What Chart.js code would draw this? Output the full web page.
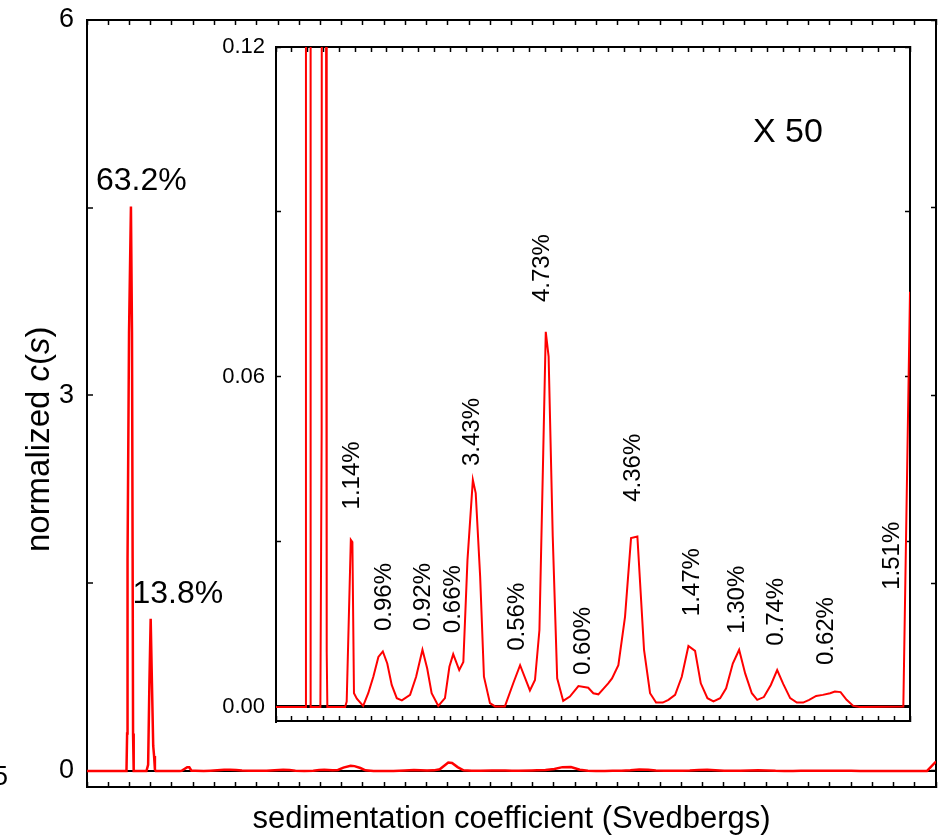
<!DOCTYPE html>
<html>

<head>
  <title>normalized c(s)</title>
  <meta charset="utf-8">
  <script src="https://cdn.jsdelivr.net/npm/chart.js"></script>
  <style>
    body { margin: 0; background: #fff; }
    #wrap { position: relative; width: 939px; height: 839px; }
    #mainChart { position: absolute; left: 0; top: 0; }
    #insetChart { position: absolute; left: 200px; top: 30px; }
  </style>
</head>

<body>
  <div id="wrap">
    <canvas id="mainChart" width="939" height="839"></canvas>
    <canvas id="insetChart" width="722" height="700"></canvas>
  </div>

  <script>
    // sedimentation coefficient (S) and normalized c(s)
    const sValues = [0, 0.93, 0.945, 0.955, 0.99, 1.035, 1.06, 1.075, 1.085, 1.10,
      1.40, 1.44, 1.47, 1.50, 1.53, 1.56, 1.58, 1.60, 1.62,
      2.18, 2.23, 2.36, 2.41, 2.46, 2.55, 2.75, 2.91, 3.07, 3.23, 3.37, 3.51, 3.65, 3.81, 3.97,
      4.23, 4.42, 4.62, 4.77, 4.91, 5.12, 5.33, 5.47, 5.59, 5.78, 5.91, 6.04, 6.21, 6.30, 6.44, 6.56,
      6.75, 6.91, 7.22, 7.49, 7.70, 8.01, 8.17, 8.31, 8.43, 8.51, 8.60, 8.73, 8.87, 9.06, 9.27,
      9.54, 9.85, 10.01, 10.17, 10.48, 10.60, 10.80, 11.01, 11.20, 11.40, 11.61, 11.80, 11.99,
      12.20, 12.38, 12.59, 12.80, 13.01, 13.22, 13.40, 13.61, 13.80, 14.01, 14.20, 14.41, 14.61,
      14.80, 15.01, 15.18, 15.39, 15.61, 15.81, 16.00, 16.22, 16.43, 16.63, 16.82, 17.04, 17.25,
      17.48, 17.63, 17.81, 18.00, 18.21, 18.42, 19.79, 20.00];
    const cValues = [0, 0, 0.3, 1.7, 3.5, 4.51, 3.5, 1.7, 0.3, 0,
      0, 0.05, 0.7, 1.216, 0.7, 0.2, 0.12, 0.01, 0,
      0, 0.001, 0.0304, 0.0300, 0.0025, 0.0015, 0.0002, 0.0025, 0.0055, 0.0091, 0.0101, 0.0079, 0.004, 0.0016, 0.0012,
      0.0022, 0.0055, 0.0104, 0.007, 0.0025, 0.0002, 0.0016, 0.0073, 0.0096, 0.0067, 0.0082, 0.0267, 0.0413, 0.0389, 0.0237, 0.0055,
      0.0007, 0.0001, 0.0001, 0.0044, 0.0076, 0.003, 0.0049, 0.014, 0.0462, 0.0682, 0.0637, 0.031, 0.0052, 0.0011, 0.0019,
      0.0038, 0.0035, 0.0025, 0.0023, 0.0043, 0.0052, 0.0076, 0.0164, 0.0307, 0.031, 0.0104, 0.0025, 0.0008,
      0.0008, 0.0013, 0.0022, 0.0055, 0.0111, 0.0102, 0.0043, 0.0016, 0.001, 0.0016, 0.0034, 0.0079, 0.0104,
      0.0061, 0.0025, 0.0013, 0.0018, 0.004, 0.0067, 0.0042, 0.0016, 0.0008, 0.0008, 0.0013, 0.002, 0.0022,
      0.0025, 0.0028, 0.0027, 0.0013, 0.0002, 0, 0.0001, 0.0755];

    // tick values
    const mainYTicks = [0, 1.5, 3, 4.5, 6];
    const mainYLabels = [0, 3, 6];
    const insetYTicks = [0, 0.03, 0.06, 0.09, 0.12];
    const insetYLabels = [0, 0.06, 0.12];

    // peak annotations: text, s, c
    const mainPeakText = ['63.2%', '13.8%'];
    const mainPeakS = [1.28, 2.14];
    const mainPeakC = [4.71, 1.41];

    const insetPeakText = ['1.14%', '0.96%', '0.92%', '0.66%', '3.43%', '0.56%', '4.73%', '0.60%',
      '4.36%', '1.47%', '1.30%', '0.74%', '0.62%', '1.51%'];
    const insetPeakS = [2.41, 3.41, 4.65, 5.58, 6.20, 7.60, 8.39, 9.69, 11.26, 13.12, 14.56, 15.80, 17.35, 19.43];
    const insetPeakC = [0.0421, 0.0200, 0.0200, 0.0196, 0.0500, 0.0164, 0.0798, 0.0120, 0.0435, 0.0227,
      0.0195, 0.0173, 0.0138, 0.0275];

    const FONT = "'Liberation Sans', Arial, sans-serif";
    Chart.defaults.font.family = FONT;
    Chart.defaults.color = '#000';

    const points = sValues.map((s, i) => ({ x: s, y: cValues[i] }));

    function edgeAxis(position, min, max, step, size) {
      const horizontal = position === 'top' || position === 'bottom';
      return {
        type: 'linear',
        position: position,
        min: min,
        max: max,
        ticks: { display: false, stepSize: step, autoSkip: false },
        grid: { drawOnChartArea: false, tickLength: -5, tickColor: '#000', tickWidth: 1.5 },
        border: { color: '#000', width: 2 },
        afterFit: function (scale) {
          if (horizontal) scale.height = size; else scale.width = size;
          // labels may hang over the frame, no extra room for them
          scale.paddingTop = 0;
          scale.paddingBottom = 0;
          scale.paddingLeft = 0;
          scale.paddingRight = 0;
        }
      };
    }

    const mainText = {
      id: 'mainText',
      afterDraw(chart) {
        const ctx = chart.ctx;
        const x = chart.scales.x;
        const y = chart.scales.y;
        ctx.save();
        ctx.fillStyle = '#000';
        ctx.textAlign = 'center';
        ctx.textBaseline = 'middle';
        ctx.font = '32px ' + FONT;
        mainPeakText.forEach((t, i) => {
          ctx.fillText(t, x.getPixelForValue(mainPeakS[i]), y.getPixelForValue(mainPeakC[i]));
        });

        // y title with italic c and s
        const parts = [['normalized ', ''], ['c', 'italic '], ['(', ''], ['s', 'italic '], [')', '']];
        let total = 0;
        parts.forEach(p => { ctx.font = p[1] + '33px ' + FONT; total += ctx.measureText(p[0]).width; });
        ctx.translate(40, y.getPixelForValue(2.65));
        ctx.rotate(-Math.PI / 2);
        ctx.textAlign = 'left';
        let pos = -total / 2;
        parts.forEach(p => {
          ctx.font = p[1] + '33px ' + FONT;
          ctx.fillText(p[0], pos, 0);
          pos += ctx.measureText(p[0]).width;
        });
        ctx.restore();

        // clipped label at the far left edge
        ctx.save();
        ctx.font = '27px ' + FONT;
        ctx.textAlign = 'right';
        ctx.textBaseline = 'middle';
        ctx.fillText('5', 8, y.getPixelForValue(-0.05));
        ctx.restore();
      }
    };

    const mainX = edgeAxis('bottom', 0, 20, 0.5, 52);
    mainX.title = {
      display: true,
      text: 'sedimentation coefficient (Svedbergs)',
      font: { size: 31 },
      padding: { top: 0, bottom: 1 }
    };
    const mainY = edgeAxis('left', -0.128, 6, 1.5, 87);
    mainY.afterBuildTicks = scale => { scale.ticks = mainYTicks.map(v => ({ value: v })); };
    mainY.ticks = {
      display: true,
      font: { size: 27 },
      padding: 19,
      callback: v => mainYLabels.includes(v) ? String(v) : ''
    };
    mainY.grid = {
      drawOnChartArea: true,
      color: c => (c.tick && c.tick.value === 0) ? '#000' : 'rgba(0,0,0,0)',
      lineWidth: 2,
      tickLength: -6, tickColor: '#000', tickWidth: 1.5
    };
    const mainY2 = edgeAxis('right', -0.128, 6, 1.5, 3);
    mainY2.afterBuildTicks = scale => { scale.ticks = mainYTicks.map(v => ({ value: v })); };

    new Chart(document.getElementById('mainChart'), {
      type: 'line',
      data: {
        datasets: [{
          data: points,
          borderColor: '#ff0000',
          borderWidth: 2.5,
          pointRadius: 0,
          tension: 0
        }]
      },
      options: {
        responsive: false,
        animation: false,
        layout: { padding: 0 },
        plugins: { legend: { display: false }, tooltip: { enabled: false } },
        scales: {
          x: mainX,
          x2: edgeAxis('top', 0, 20, 0.5, 20),
          y: mainY,
          y2: mainY2
        }
      },
      plugins: [mainText]
    });

    const insetText = {
      id: 'insetText',
      afterDraw(chart) {
        const ctx = chart.ctx;
        const x = chart.scales.x;
        const y = chart.scales.y;
        ctx.save();
        ctx.fillStyle = '#000';
        ctx.textAlign = 'center';
        ctx.textBaseline = 'middle';
        ctx.font = '34px ' + FONT;
        ctx.fillText('X 50', x.getPixelForValue(16.15), y.getPixelForValue(0.1044));
        ctx.font = '24px ' + FONT;
        insetPeakText.forEach((t, i) => {
          ctx.save();
          ctx.translate(x.getPixelForValue(insetPeakS[i]), y.getPixelForValue(insetPeakC[i]));
          ctx.rotate(-Math.PI / 2);
          ctx.fillText(t, 0, 0);
          ctx.restore();
        });
        ctx.restore();
      }
    };

    const insetY = edgeAxis('left', -0.00255, 0.12, 0.03, 76);
    insetY.afterBuildTicks = scale => { scale.ticks = insetYTicks.map(v => ({ value: v })); };
    insetY.ticks = {
      display: true,
      font: { size: 22 },
      padding: 16,
      callback: v => insetYLabels.includes(v) ? v.toFixed(2) : ''
    };
    insetY.grid = {
      drawOnChartArea: true,
      color: c => (c.tick && c.tick.value === 0) ? '#000' : 'rgba(0,0,0,0)',
      lineWidth: 3,
      tickLength: -5, tickColor: '#000', tickWidth: 1.5
    };
    const insetY2 = edgeAxis('right', -0.00255, 0.12, 0.03, 12);
    insetY2.afterBuildTicks = scale => { scale.ticks = insetYTicks.map(v => ({ value: v })); };

    new Chart(document.getElementById('insetChart'), {
      type: 'line',
      data: {
        datasets: [{
          data: points,
          borderColor: '#ff0000',
          borderWidth: 2,
          pointRadius: 0,
          tension: 0
        }]
      },
      options: {
        responsive: false,
        animation: false,
        layout: { padding: 0 },
        plugins: { legend: { display: false }, tooltip: { enabled: false } },
        scales: {
          x: edgeAxis('bottom', 0, 20, 0.5, 9),
          x2: edgeAxis('top', 0, 20, 0.5, 17),
          y: insetY,
          y2: insetY2
        }
      },
      plugins: [insetText]
    });
  </script>
</body>

</html>
